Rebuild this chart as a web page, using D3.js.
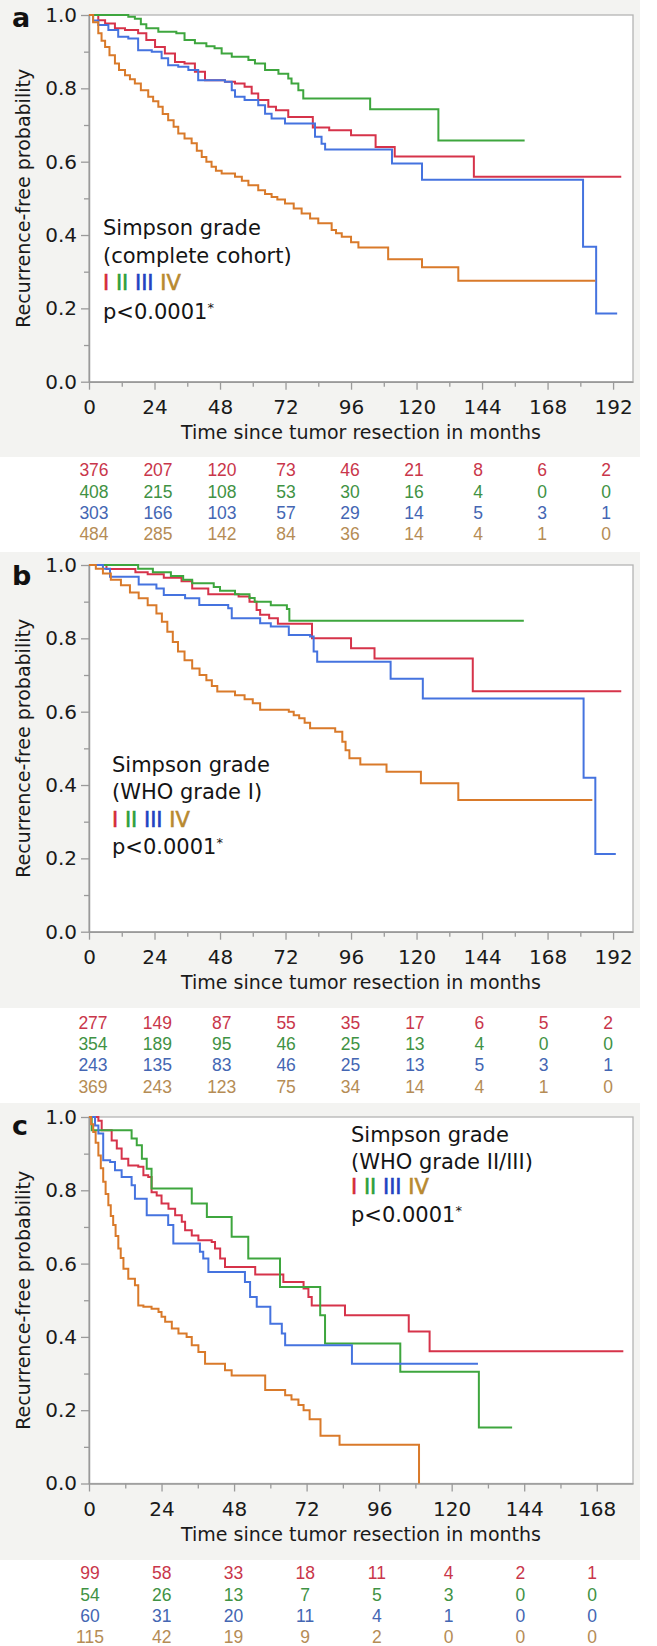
<!DOCTYPE html>
<html><head><meta charset="utf-8">
<script src="https://cdn.jsdelivr.net/npm/d3@7/dist/d3.min.js"></script>
<style>body{margin:0;background:#fff}svg{display:block}</style>
</head><body>
<svg id="chart" width="657" height="1646"></svg>
<script>
// ---------- DATA ----------
const groupNames = ["I", "II", "III", "IV"];
const panelLetters = ["a", "b", "c"];
const cohortLabels = ["(complete cohort)", "(WHO grade I)", "(WHO grade II/III)"];
const legendTitle = "Simpson grade";
const pText = "p<0.0001";
const xTitle = "Time since tumor resection in months";
const yTitle = "Recurrence-free probability";
const xTicksAB = [0, 24, 48, 72, 96, 120, 144, 168, 192];
const xTicksC = [0, 24, 48, 72, 96, 120, 144, 168];
const yTickLabels = [0, 0.2, 0.4, 0.6, 0.8, 1.0];

// Panel a: complete cohort  [months, recurrence-free probability]
const aI = [[0,1],[3.4,0.986],[5.9,0.977],[9.5,0.964],[13.2,0.959],[18,0.95],[21,0.932],[24.2,0.913],[27.8,0.895],[31.5,0.872],[35,0.868],[38.8,0.845],[42.5,0.822],[49.8,0.818],[53.5,0.813],[57,0.804],[59.6,0.786],[62,0.768],[65.7,0.75],[68.5,0.74],[73,0.722],[82,0.693],[88,0.686],[96,0.672],[105,0.64],[112,0.614],[141,0.559],[195,0.559]];
const aII = [[0,1],[14.4,0.995],[16.8,0.99],[19,0.975],[21,0.964],[25.4,0.954],[32,0.95],[35,0.932],[38.8,0.923],[43,0.915],[46,0.909],[48.6,0.895],[52.3,0.886],[58.4,0.877],[60.8,0.868],[64.5,0.85],[69.4,0.84],[73,0.827],[74.2,0.813],[76.7,0.795],[78.5,0.772],[103,0.743],[128,0.658],[159.6,0.658]];
const aIII = [[0,1],[1.5,0.985],[3.4,0.973],[7.1,0.959],[10.7,0.941],[14.4,0.936],[18,0.904],[23,0.9],[26.6,0.882],[29,0.863],[32.7,0.859],[36.4,0.85],[40,0.822],[49.8,0.818],[52.3,0.795],[53.5,0.777],[57,0.768],[62,0.754],[64.5,0.731],[66.9,0.718],[71.8,0.704],[82.8,0.668],[85.2,0.649],[86.5,0.633],[111,0.595],[122,0.551],[181,0.368],[185.8,0.186],[193.5,0.186]];
const aIV = [[0,1],[1.5,0.98],[3.4,0.95],[4.6,0.93],[5.9,0.913],[7.5,0.89],[9.5,0.868],[11,0.85],[13.2,0.836],[15,0.825],[16.8,0.813],[19,0.795],[21.7,0.777],[23.5,0.765],[25.4,0.75],[27,0.73],[29,0.713],[31,0.695],[32.7,0.677],[35,0.663],[37.6,0.65],[39.5,0.63],[41.3,0.613],[43,0.6],[44.9,0.586],[46.5,0.575],[48.6,0.568],[53.5,0.559],[56,0.548],[58.4,0.536],[62,0.522],[64.5,0.512],[66.9,0.504],[69,0.497],[71.8,0.486],[75,0.472],[77.9,0.459],[81,0.445],[84,0.432],[88.9,0.414],[90.5,0.405],[92.6,0.395],[96,0.38],[98.7,0.366],[109.6,0.334],[122,0.312],[135.3,0.275],[185.5,0.275]];

// Panel b: WHO grade I
const bI = [[0,1],[6.4,0.989],[17,0.98],[21.5,0.975],[27.4,0.965],[33.9,0.956],[37.8,0.936],[43.7,0.92],[54.8,0.914],[58.8,0.9],[61.4,0.877],[62.7,0.864],[66,0.855],[69.2,0.84],[81.7,0.8],[96,0.773],[104.6,0.745],[140.6,0.656],[195,0.656]];
const bII = [[0,1],[18,0.99],[23.4,0.98],[30,0.97],[34.5,0.96],[37.8,0.95],[45.7,0.94],[48,0.93],[53.5,0.92],[58.8,0.91],[60.7,0.9],[66.6,0.89],[72.5,0.88],[73.4,0.848],[159.3,0.848]];
const bIII = [[0,1],[5.1,0.99],[7.7,0.968],[18.2,0.947],[24.7,0.936],[27.4,0.918],[35.2,0.909],[40.4,0.891],[51,0.882],[52.3,0.855],[62.7,0.841],[66.6,0.832],[73.2,0.809],[81,0.805],[82.3,0.764],[83.6,0.736],[110.5,0.69],[122.3,0.636],[181.2,0.42],[185.5,0.212],[193,0.212]];
const bIV = [[0,1],[2.5,0.99],[5.1,0.977],[8,0.96],[11.7,0.945],[15,0.925],[18.2,0.909],[21.5,0.89],[24.7,0.868],[26.7,0.845],[28.7,0.818],[30.7,0.79],[32.6,0.764],[35,0.74],[37.8,0.718],[40.5,0.7],[43,0.686],[45,0.67],[47,0.655],[53.5,0.645],[57,0.634],[60,0.623],[62.7,0.605],[73.2,0.6],[75,0.59],[77,0.582],[79,0.57],[81,0.555],[90.2,0.545],[92.8,0.518],[94,0.495],[95.4,0.473],[99.4,0.456],[109,0.436],[121.6,0.405],[135.3,0.359],[184.4,0.359]];

// Panel c: WHO grade II/III
const cI = [[0,1],[3.1,0.99],[4.2,0.964],[7.5,0.936],[9.2,0.914],[10.8,0.886],[13,0.868],[16.3,0.864],[18,0.841],[19.6,0.836],[20.7,0.795],[22.4,0.786],[24,0.764],[26.3,0.75],[28.5,0.732],[30.7,0.714],[31.8,0.691],[34,0.677],[36.2,0.664],[40.6,0.659],[41.7,0.641],[43.4,0.614],[45,0.591],[55,0.57],[64.3,0.55],[71,0.532],[72.6,0.509],[73.7,0.486],[84.7,0.459],[105.8,0.415],[112.7,0.361],[176.8,0.361]];
const cII = [[0,1],[0.9,0.964],[14.1,0.941],[15.8,0.923],[17.5,0.886],[19.1,0.859],[20.7,0.805],[34,0.764],[39,0.727],[47.2,0.673],[52.7,0.614],[63.2,0.536],[76.5,0.459],[78.1,0.382],[103,0.305],[129,0.153],[140,0.153]];
const cIII = [[0,1],[2,0.977],[3.1,0.955],[4.7,0.882],[7,0.877],[8.6,0.855],[10.8,0.836],[14.1,0.814],[15.2,0.777],[19.1,0.732],[26.2,0.705],[27.9,0.655],[36.7,0.632],[37.8,0.614],[39.5,0.577],[51.6,0.55],[53.3,0.509],[55.5,0.482],[60,0.436],[63.8,0.409],[64.9,0.377],[87,0.327],[128.7,0.327]];
const cIV = [[0,1],[0.7,0.98],[1.4,0.959],[2.2,0.93],[3.1,0.895],[3.9,0.86],[4.7,0.823],[5.5,0.79],[6.4,0.759],[7.2,0.73],[8,0.705],[8.8,0.675],[9.7,0.641],[10.5,0.615],[11.4,0.586],[13,0.559],[15.2,0.541],[16.3,0.486],[18,0.482],[20.7,0.477],[23,0.468],[24,0.455],[25.2,0.441],[27.4,0.423],[29.6,0.409],[32.3,0.4],[34,0.377],[36.2,0.359],[38.4,0.327],[45,0.309],[47.2,0.295],[58.3,0.255],[64.9,0.241],[67,0.229],[69.3,0.214],[71,0.2],[73,0.175],[76.6,0.13],[82.9,0.106],[109.2,0]];

// Numbers at risk
const riskA = [[376,207,120,73,46,21,8,6,2],[408,215,108,53,30,16,4,0,0],[303,166,103,57,29,14,5,3,1],[484,285,142,84,36,14,4,1,0]];
const riskB = [[277,149,87,55,35,17,6,5,2],[354,189,95,46,25,13,4,0,0],[243,135,83,46,25,13,5,3,1],[369,243,123,75,34,14,4,1,0]];
const riskC = [[99,58,33,18,11,4,2,1],[54,26,13,7,5,3,0,0],[60,31,20,11,4,1,0,0],[115,42,19,9,2,0,0,0]];

// ---------- STYLE / LAYOUT ----------
const lineColors = ["#d6334a", "#3ea63e", "#4573df", "#d97a2a"];
const legendColors = ["#d42b37", "#2f9f3a", "#2342c2", "#b8892f"];
const riskColors = ["#c9364a", "#3f9244", "#4466b3", "#b58c55"];
const FONT = "'DejaVu Sans', sans-serif";
const RFONT = "'Liberation Sans', Arial, sans-serif";

const panels = [
  {curves:[aI,aII,aIII,aIV], risk:riskA, ticks:xTicksAB, xMax:199.3, bgTop:0, bgBottom:457, top:15, bottom:381.7,
   letterY:27, legendX:103, legendY:[235,263,290,319], riskRange:[94,606], riskY:[476,498,519,540]},
  {curves:[bI,bII,bIII,bIV], risk:riskB, ticks:xTicksAB, xMax:199.3, bgTop:552, bgBottom:1008, top:565, bottom:931.7,
   letterY:585, legendX:112, legendY:[772,799,827,854], riskRange:[93,608], riskY:[1029,1050,1071,1093]},
  {curves:[cI,cII,cIII,cIV], risk:riskC, ticks:xTicksC, xMax:180, bgTop:1103, bgBottom:1560, top:1117, bottom:1483.5,
   letterY:1135, legendX:351, legendY:[1142,1169,1194,1222], riskRange:[90,592], riskY:[1579,1601,1622,1643]}
];

const svg = d3.select("#chart");
const L = 89, R = 633;

panels.forEach((p, pi) => {
  const g = svg.append("g");
  g.append("rect").attr("x", 0).attr("y", p.bgTop).attr("width", 640).attr("height", p.bgBottom - p.bgTop).attr("fill", "#f3f3f1");
  const x = d3.scaleLinear().domain([0, p.xMax]).range([L, R]);
  const y = d3.scaleLinear().domain([0, 1]).range([p.bottom, p.top]);

  g.append("rect").attr("x", L).attr("y", p.top).attr("width", R - L).attr("height", p.bottom - p.top)
    .attr("fill", "#fff").attr("stroke", "#b4b4b4").attr("stroke-width", 1.3);

  // minor ticks
  const last = p.ticks[p.ticks.length - 1];
  const minorX = d3.range(12, last + 1, 24);
  const minorY = [0.1, 0.3, 0.5, 0.7, 0.9];
  g.append("g").attr("transform", `translate(0,${p.bottom})`)
    .call(d3.axisBottom(x).tickValues(minorX).tickSize(5).tickSizeOuter(0).tickFormat(""))
    .call(s => s.select(".domain").remove());
  g.append("g").attr("transform", `translate(${L},0)`)
    .call(d3.axisLeft(y).tickValues(minorY).tickSize(5).tickSizeOuter(0).tickFormat(""))
    .call(s => s.select(".domain").remove());

  // major axes
  const xa = g.append("g").attr("transform", `translate(0,${p.bottom})`)
    .call(d3.axisBottom(x).tickValues(p.ticks).tickSize(8).tickSizeOuter(0).tickPadding(10).tickFormat(d3.format("d")));
  const ya = g.append("g").attr("transform", `translate(${L},0)`)
    .call(d3.axisLeft(y).tickValues(yTickLabels).tickSize(8).tickSizeOuter(0).tickPadding(4).tickFormat(d3.format(".1f")));
  [xa, ya].forEach(a => {
    a.selectAll("text").attr("font-family", FONT).attr("font-size", 20).attr("fill", "#1a1a1a");
  });
  g.selectAll(".tick line").attr("stroke", "#9a9a9a").attr("stroke-width", 1.3);
  g.selectAll(".domain").attr("stroke", "#9a9a9a").attr("stroke-width", 1.5);

  // axis titles
  g.append("text").attr("x", (L + R) / 2).attr("y", p.bottom + 57).attr("text-anchor", "middle")
    .attr("font-family", FONT).attr("font-size", 19).attr("fill", "#1a1a1a").text(xTitle);
  g.append("text").attr("transform", `translate(23,${(p.top + p.bottom) / 2}) rotate(-90)`)
    .attr("text-anchor", "middle").attr("dy", "0.35em")
    .attr("font-family", FONT).attr("font-size", 19).attr("fill", "#1a1a1a").text(yTitle);

  // panel letter
  g.append("text").attr("x", 12).attr("y", p.letterY).attr("font-family", FONT).attr("font-weight", "bold")
    .attr("font-size", 27).attr("fill", "#111").text(panelLetters[pi]);

  // curves
  const line = d3.line().x(d => x(d[0])).y(d => y(d[1])).curve(d3.curveStepAfter);
  p.curves.forEach((c, ci) => {
    g.append("path").attr("d", line(c)).attr("fill", "none").attr("stroke", lineColors[ci])
      .attr("stroke-width", 2).attr("stroke-linejoin", "miter");
  });

  // legend
  const lg = g.append("g").attr("font-family", FONT).attr("font-size", 21).attr("fill", "#141414");
  lg.append("text").attr("x", p.legendX).attr("y", p.legendY[0]).text(legendTitle);
  lg.append("text").attr("x", p.legendX).attr("y", p.legendY[1]).text(cohortLabels[pi]);
  const gt = lg.append("text").attr("x", p.legendX).attr("y", p.legendY[2]);
  groupNames.forEach((n, i) => {
    gt.append("tspan").attr("fill", legendColors[i])
      .attr("stroke", legendColors[i]).attr("stroke-width", 0.6).text((i ? " " : "") + n);
  });
  const pt = lg.append("text").attr("x", p.legendX).attr("y", p.legendY[3]).text(pText);
  pt.append("tspan").attr("font-size", 13).attr("dy", -7).text("*");

  // numbers at risk
  const cols = d3.scalePoint().domain(d3.range(p.risk[0].length)).range(p.riskRange);
  p.risk.forEach((row, ri) => {
    g.append("g").selectAll("text").data(row).join("text")
      .attr("x", (d, i) => cols(i)).attr("y", p.riskY[ri]).attr("text-anchor", "middle")
      .attr("font-family", RFONT).attr("font-size", 17.5).attr("fill", riskColors[ri]).text(d => d);
  });
});
</script>
</body></html>
